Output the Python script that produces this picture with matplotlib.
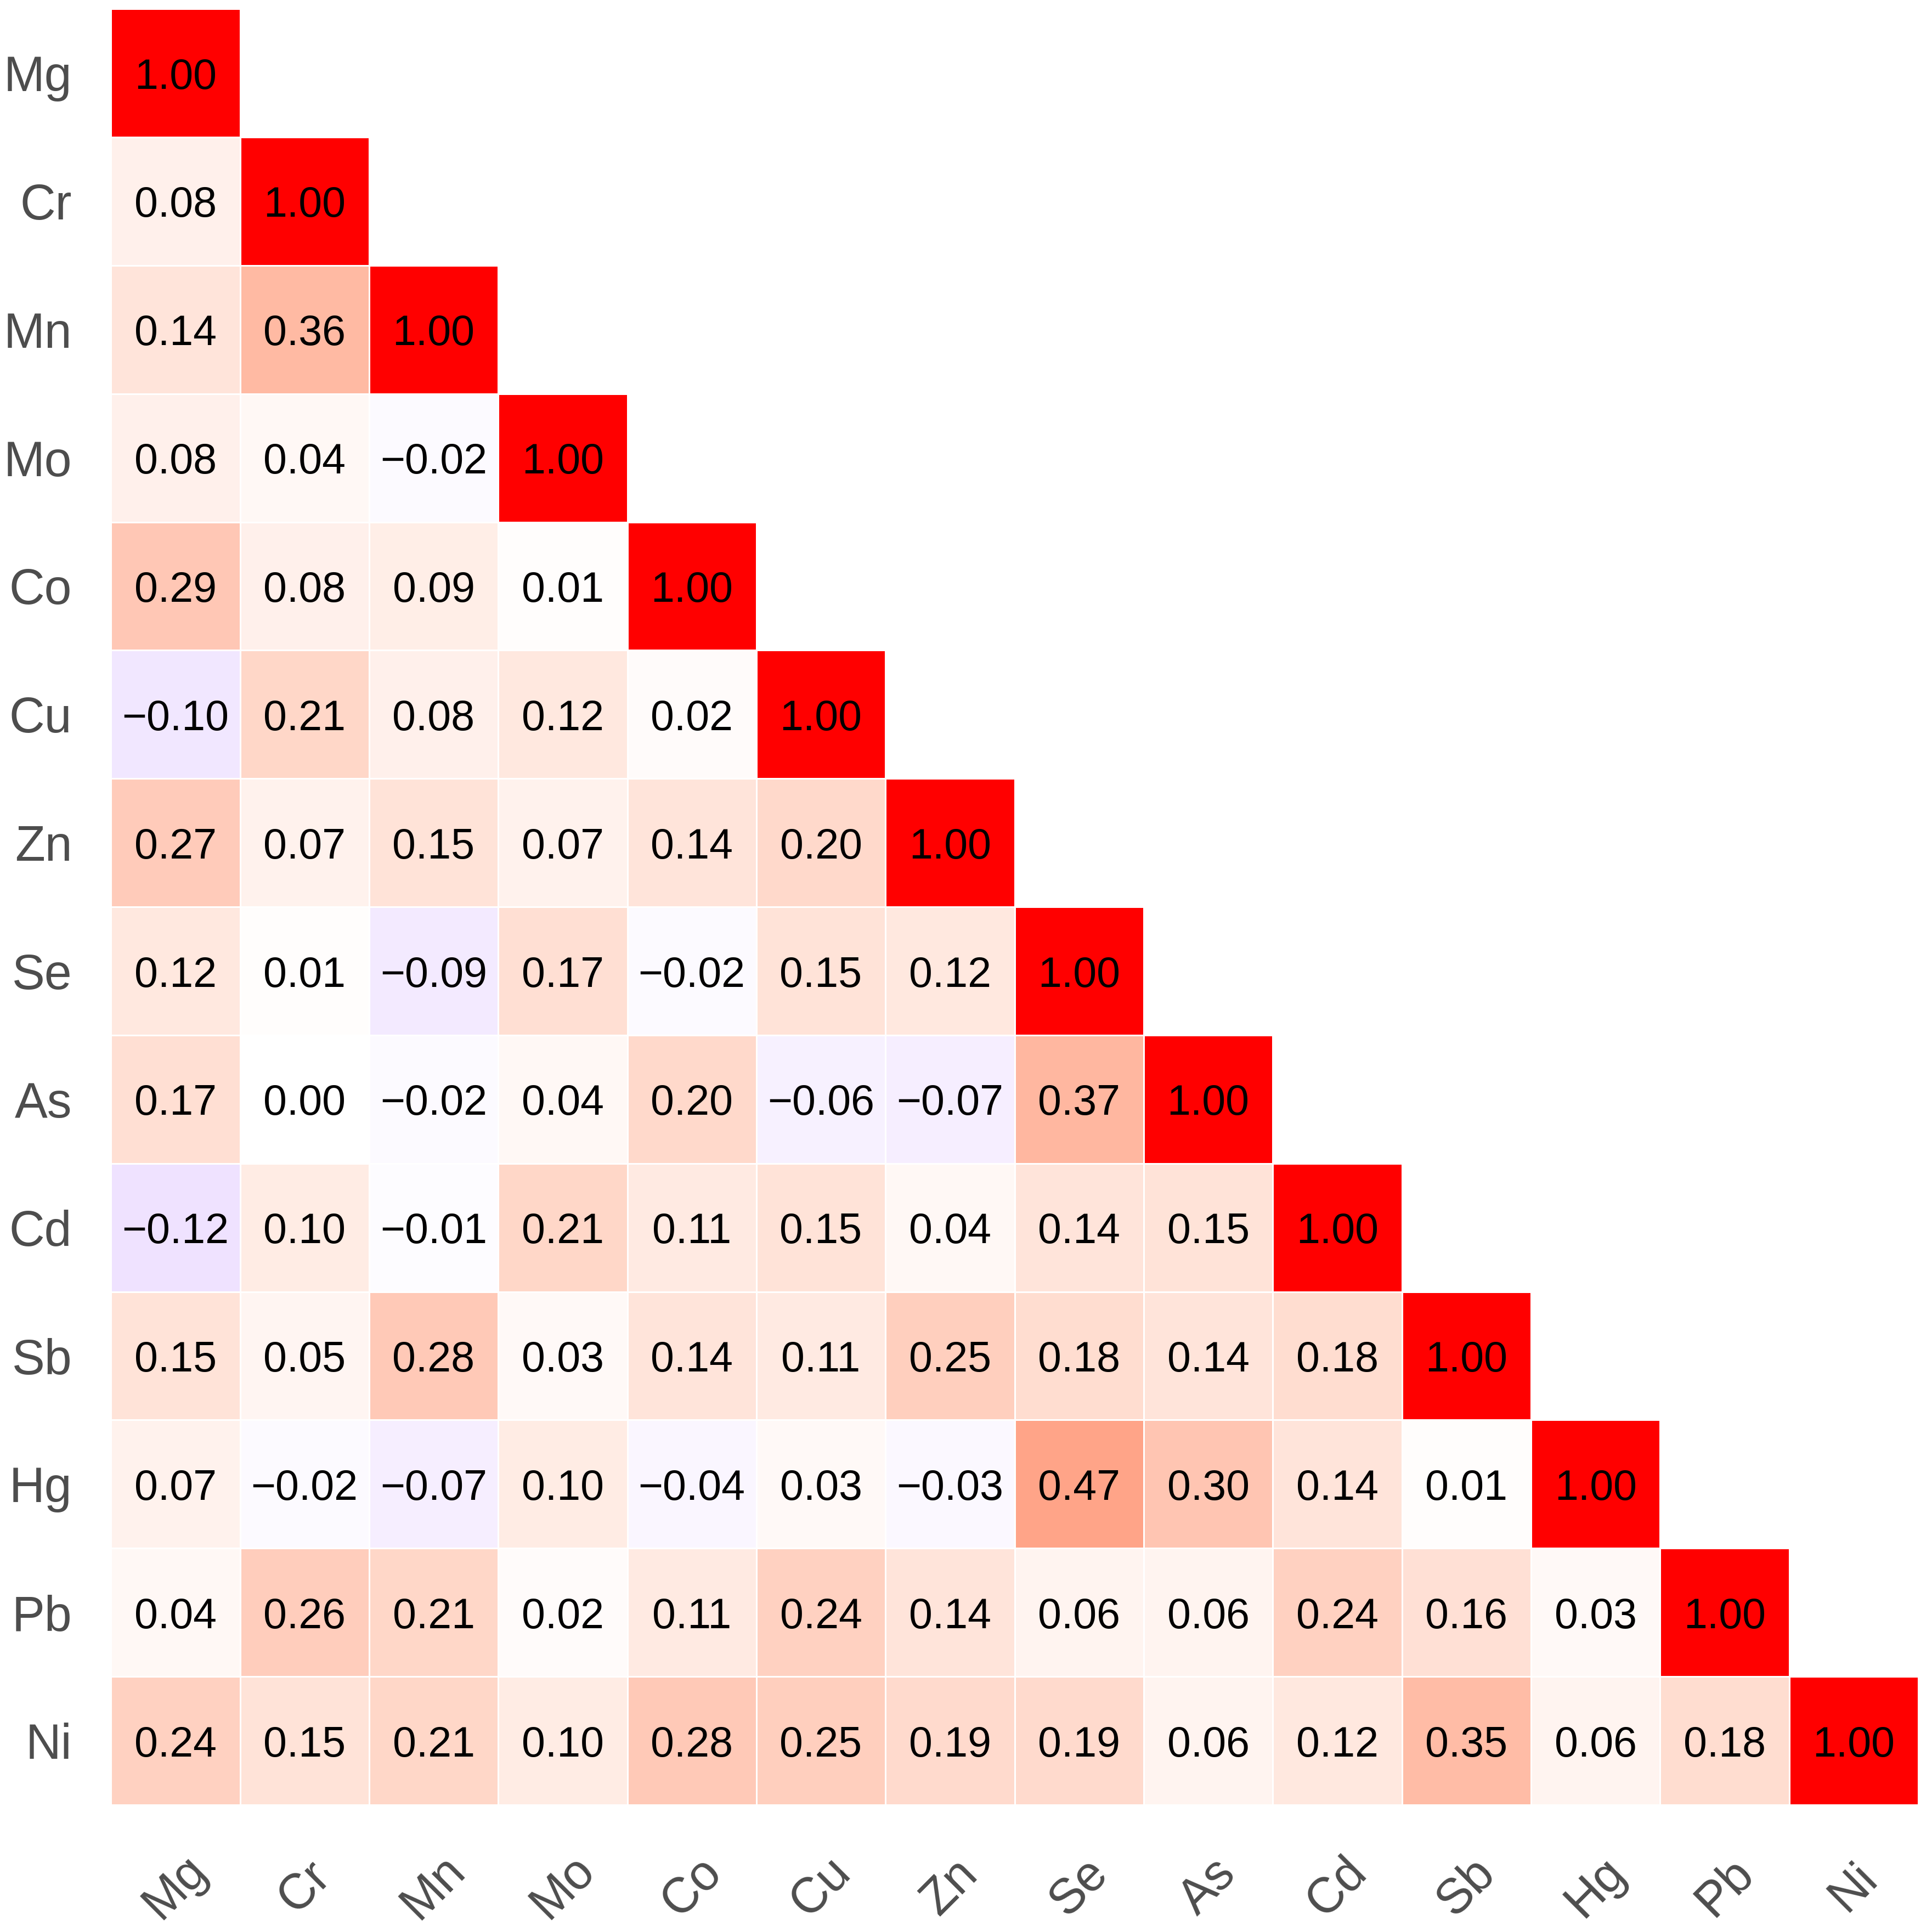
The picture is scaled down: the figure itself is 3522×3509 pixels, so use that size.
import numpy as np
import matplotlib
matplotlib.use("Agg")
import matplotlib.pyplot as plt
from matplotlib.colors import ListedColormap

plt.rcParams['font.family'] = ['Liberation Sans', 'DejaVu Sans']

# element names and lower-triangle correlations (row by row)
elements = ["Mg", "Cr", "Mn", "Mo", "Co", "Cu", "Zn", "Se", "As", "Cd", "Sb", "Hg", "Pb", "Ni"]
lower_rows = [
    [],
    [0.08],
    [0.14, 0.36],
    [0.08, 0.04, -0.02],
    [0.29, 0.08, 0.09, 0.01],
    [-0.10, 0.21, 0.08, 0.12, 0.02],
    [0.27, 0.07, 0.15, 0.07, 0.14, 0.20],
    [0.12, 0.01, -0.09, 0.17, -0.02, 0.15, 0.12],
    [0.17, 0.00, -0.02, 0.04, 0.20, -0.06, -0.07, 0.37],
    [-0.12, 0.10, -0.01, 0.21, 0.11, 0.15, 0.04, 0.14, 0.15],
    [0.15, 0.05, 0.28, 0.03, 0.14, 0.11, 0.25, 0.18, 0.14, 0.18],
    [0.07, -0.02, -0.07, 0.10, -0.04, 0.03, -0.03, 0.47, 0.30, 0.14, 0.01],
    [0.04, 0.26, 0.21, 0.02, 0.11, 0.24, 0.14, 0.06, 0.06, 0.24, 0.16, 0.03],
    [0.24, 0.15, 0.21, 0.10, 0.28, 0.25, 0.19, 0.19, 0.06, 0.12, 0.35, 0.06, 0.18],
]

n = len(elements)
corr = np.full((n, n), np.nan)
for i, row in enumerate(lower_rows):
    for j, v in enumerate(row):
        corr[i, j] = v
    corr[i, i] = 1.0


# blue - white - red gradient interpolated in Lab (like ggplot's gradient2)
def srgb_to_lab(c):
    c = np.asarray(c, float)
    lin = np.where(c <= 0.04045, c / 12.92, ((c + 0.055) / 1.055) ** 2.4)
    M = np.array([[0.4124564, 0.3575761, 0.1804375],
                  [0.2126729, 0.7151522, 0.0721750],
                  [0.0193339, 0.1191920, 0.9503041]])
    xyz = M @ lin / np.array([0.95047, 1.0, 1.08883])
    f = np.where(xyz > 216 / 24389, np.cbrt(xyz), (24389 / 27 * xyz + 16) / 116)
    return np.array([116 * f[1] - 16, 500 * (f[0] - f[1]), 200 * (f[1] - f[2])])


def lab_to_srgb(lab):
    L, a, b = lab
    fy = (L + 16) / 116
    fx = fy + a / 500
    fz = fy - b / 200
    f = np.array([fx, fy, fz])
    xyz = np.where(f ** 3 > 216 / 24389, f ** 3, (116 * f - 16) / (24389 / 27))
    xyz = xyz * np.array([0.95047, 1.0, 1.08883])
    Minv = np.array([[3.2404542, -1.5371385, -0.4985314],
                     [-0.9692660, 1.8760108, 0.0415560],
                     [0.0556434, -0.2040259, 1.0572252]])
    lin = np.clip(Minv @ xyz, 0, 1)
    c = np.where(lin <= 0.0031308, 12.92 * lin, 1.055 * lin ** (1 / 2.4) - 0.055)
    return np.clip(c, 0, 1)


lab_lo = srgb_to_lab([0, 0, 1])
lab_mid = srgb_to_lab([1, 1, 1])
lab_hi = srgb_to_lab([1, 0, 0])
cols = []
for t in np.linspace(-1, 1, 511):
    if t < 0:
        lab = lab_mid + (-t) * (lab_lo - lab_mid)
    else:
        lab = lab_mid + t * (lab_hi - lab_mid)
    cols.append(lab_to_srgb(lab))
cmap = ListedColormap(cols)

fig = plt.figure(figsize=(3522 / 300, 3509 / 300), dpi=300)
ax = fig.add_axes([0.0574, 0.0624, 0.9355, 0.933])

data = np.ma.masked_invalid(corr)
ax.pcolormesh(np.arange(n + 1), np.arange(n + 1), data, cmap=cmap, vmin=-1, vmax=1,
              edgecolors='white', linewidth=0.7)

for i in range(n):
    for j in range(i + 1):
        v = corr[i, j]
        txt = f"{v:.2f}".replace("-", "\u2212")
        ax.text(j + 0.5, i + 0.5, txt, ha='center', va='center_baseline',
                fontsize=18.5, color='black')

ax.set_xlim(0, n)
ax.set_ylim(n, 0)
ax.set_xticks(np.arange(n) + 0.5)
ax.set_yticks(np.arange(n) + 0.5)
ax.set_xticklabels(elements, rotation=45, ha='center', va='center', rotation_mode='anchor')
ax.set_yticklabels(elements, va='center_baseline')
ax.tick_params(axis='both', length=0, labelsize=21.5, labelcolor='#4D4D4D')
ax.tick_params(axis='x', pad=36)
ax.tick_params(axis='y', pad=17)
for s in ax.spines.values():
    s.set_visible(False)

fig.savefig("out.png", dpi=300)
